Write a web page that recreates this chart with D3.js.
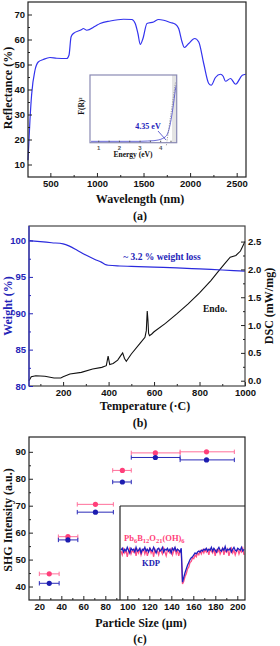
<!DOCTYPE html>
<html>
<head>
<meta charset="utf-8">
<script src="https://cdnjs.cloudflare.com/ajax/libs/d3/7.8.5/d3.min.js"></script>
<style>
  body { margin: 0; background: #fff; }
  svg { display: block; font-family: "Liberation Serif", "Times New Roman", serif; font-weight: bold; }
  .domain { display: none; }
</style>
</head>
<body>
<script>
// (a) diffuse reflectance
var wavelength = [260, 281, 299, 335, 370, 424, 496, 568, 676, 700, 722, 747, 837, 853, 891, 981, 1034, 1142, 1285, 1375, 1411, 1440, 1465, 1494, 1537, 1608, 1662, 1716, 1788, 1842, 1877, 1914, 1939, 1985, 2050, 2093, 2146, 2200, 2226, 2272, 2326, 2355, 2380, 2434, 2488, 2560, 2596];
var reflectance = [11.7, 27.7, 38, 47.7, 51, 52, 52.8, 52.5, 52.4, 53.7, 61, 62.4, 64, 64.4, 63.7, 65.3, 66.4, 67.4, 68.1, 68, 66.4, 62.4, 58, 60.4, 66.4, 67, 68, 67.7, 66.8, 66.1, 64.4, 59, 56.8, 58.4, 60.4, 59, 50.4, 42.4, 41.7, 44.8, 46.1, 45.3, 43.3, 44.4, 42.1, 45.7, 46.1];
var insetEnergy = [0.65, 1.0, 1.5, 2.0, 2.5, 3.0, 3.4, 3.7, 3.9, 4.1, 4.25, 4.35, 4.45, 4.55, 4.62, 4.68, 4.73, 4.78];
var insetFR = [0.01, 0.01, 0.01, 0.01, 0.01, 0.01, 0.015, 0.02, 0.03, 0.05, 0.08, 0.12, 0.22, 0.38, 0.52, 0.66, 0.78, 0.86];
var tangentEnergy = [4.3, 4.74];
var tangentFR = [-0.05, 0.9];

// (b) TGA / DSC
var tgaTemp = [50, 100, 150, 200, 230, 260, 300, 340, 370, 385, 400, 450, 500, 600, 700, 800, 900, 1000];
var tgaWeight = [100.0, 99.85, 99.7, 99.55, 99.2, 98.7, 98.0, 97.4, 97.0, 96.7, 96.6, 96.5, 96.45, 96.35, 96.25, 96.1, 95.95, 95.8];
var dscTemp = [50, 60, 80, 120, 160, 190, 200, 230, 280, 330, 370, 390, 398, 405, 420, 440, 455, 462, 470, 478, 500, 540, 560, 566, 570, 573, 576, 580, 590, 600, 650, 700, 750, 800, 850, 880, 910, 935, 960, 980, 1000];
var dscValue = [0.0, 0.07, 0.09, 0.08, 0.05, 0.05, 0.07, 0.12, 0.15, 0.21, 0.24, 0.27, 0.44, 0.29, 0.31, 0.37, 0.46, 0.5, 0.4, 0.35, 0.48, 0.68, 0.78, 0.9, 1.25, 1.1, 0.85, 0.81, 0.84, 0.88, 1.03, 1.2, 1.38, 1.58, 1.8, 1.95, 2.1, 2.22, 2.25, 2.33, 2.5];

// (c) SHG vs particle size
var sizeCenter = [29, 46, 71, 95.5, 125.5, 172];
var sizeLow = [20, 37.3, 54.5, 86.7, 103.6, 148];
var sizeHigh = [38, 55, 87.3, 103.6, 148, 197.3];
var shgSample = [44.7, 58.5, 70.5, 83.1, 89.6, 90];
var shgKDP = [41.2, 57.3, 67.6, 78.8, 87.9, 87];
var traceKDP = [53,55,51,54,52,56,53,50,55,53, 54,51,56,52,53,55,50,54,53,56, 52,54,51,55,53,52,56,53,50,54, 55,52,53,56,51,54,53,55,52,54, 50,55,53,56,52,54,53,51,55,
  19,24,29,33,37,40,43,45,46,48, 50,49,51,52,51,53,52,54,53,55, 52,
  54,53,56,52,55,53,51,54,56,53, 52,55,53,57,52,54,53,55,51,54, 56,53,52,55,54,53,56,52,54];
var traceSample = [52,48,54,50,53,46,52,55,49,53, 51,54,47,53,50,55,48,52,54,49, 53,47,52,55,50,53,46,54,51,52, 48,54,52,49,55,51,47,53,52,50, 54,48,52,55,49,53,47,52,51,
  17,20,25,28,33,35,40,41,45,44, 48,46,50,48,52,49,53,50,54,51, 53,
  48,54,52,50,55,47,53,51,54,49, 52,55,48,53,51,54,47,52,55,50, 53,48,52,54,49,53,51,55,48];

(function() {
    var svg = d3.select('body').append('svg')
                .attr('width', 280)
                .attr('height', 646);

    var blue = '#3333ee', dark = '#222';

    function frame(x0, y0, x1, y1, color) {
        svg.append('rect')
            .attr('x', x0).attr('y', y0)
            .attr('width', x1 - x0).attr('height', y1 - y0)
            .attr('fill', 'none')
            .attr('stroke', color || dark)
            .attr('stroke-width', 1.2);
    }

    // major ticks with labels, minor ticks without, all pointing inward
    function axis(gen, scale, pos, major, minor, fmt, size, color) {
        var tr = (gen === d3.axisBottom) ? 'translate(0,' + pos + ')' : 'translate(' + pos + ',0)';
        var gm = svg.append('g').attr('transform', tr)
            .call(gen(scale).tickValues(minor).tickSize(-2).tickFormat(''));
        var g = svg.append('g').attr('transform', tr)
            .call(gen(scale).tickValues(major).tickSize(-4).tickPadding(3).tickFormat(fmt));
        [gm, g].forEach(function(s) {
            s.selectAll('line').attr('stroke', color || dark);
        });
        g.selectAll('text')
            .attr('font-size', size || 10)
            .attr('fill', color || '#111');
        return g;
    }

    function label(x, y, text, size, color, rotate) {
        var t = svg.append('text')
            .attr('text-anchor', 'middle')
            .attr('font-size', size)
            .attr('fill', color || '#111')
            .text(text);
        if (rotate) t.attr('transform', 'translate(' + x + ',' + y + ') rotate(' + rotate + ')');
        else t.attr('x', x).attr('y', y);
        return t;
    }

    // ---------- (a) ----------
    var xa = d3.scaleLinear().domain([260, 2600]).range([28, 246]);
    var ya = d3.scaleLinear().domain([5, 75]).range([177, 2]);

    svg.append('path')
        .datum(d3.zip(wavelength, reflectance))
        .attr('d', d3.line().x(function(d) { return xa(d[0]); }).y(function(d) { return ya(d[1]); }).curve(d3.curveMonotoneX))
        .attr('fill', 'none').attr('stroke', blue).attr('stroke-width', 1.2);

    axis(d3.axisBottom, xa, 177, [500, 1000, 1500, 2000, 2500], [750, 1250, 1750, 2250], d3.format('d'), 9.5);
    axis(d3.axisLeft, ya, 28, [10, 20, 30, 40, 50, 60, 70], [15, 25, 35, 45, 55, 65], d3.format('d'), 9.5);
    frame(28, 2, 246, 177);

    label(140, 203, 'Wavelength (nm)', 12);
    label(140, 220, '(a)', 12);
    label(12, 88, 'Reflectance (%)', 12, '#111', -90);

    // inset
    var xi = d3.scaleLinear().domain([0.6, 4.8]).range([90, 176.7]);
    var yi = d3.scaleLinear().domain([0, 1]).range([142, 76]);
    svg.append('rect').attr('x', 172).attr('y', 75).attr('width', 4.7).attr('height', 67.7).attr('fill', '#e4e4e4');
    svg.append('path')
        .datum(d3.zip(insetEnergy, insetFR))
        .attr('d', d3.line().x(function(d) { return xi(d[0]); }).y(function(d) { return yi(d[1]); }).curve(d3.curveMonotoneX))
        .attr('fill', 'none').attr('stroke', '#4444cc').attr('stroke-width', 0.8);
    svg.append('path')
        .datum(d3.zip(tangentEnergy, tangentFR))
        .attr('d', d3.line().x(function(d) { return xi(d[0]); }).y(function(d) { return yi(d[1]); }))
        .attr('fill', 'none').attr('stroke', '#777').attr('stroke-width', 0.7).attr('stroke-dasharray', '1.2,1.2');
    var gi = axis(d3.axisBottom, xi, 142.7, [1, 2, 3, 4], [1.5, 2.5, 3.5, 4.5], d3.format('d'), 6, '#555');
    gi.selectAll('line').attr('y2', -2);
    frame(90, 75, 176.7, 142.7, '#8a8ab4');
    label(133, 157, 'Energy (eV)', 7.5);
    label(84, 106, 'F(R)²', 7.5, '#111', -90);
    label(148, 129, '4.35 eV', 8, '#2222bb');
    svg.append('line').attr('x1', 158).attr('y1', 131).attr('x2', 166).attr('y2', 140)
        .attr('stroke', '#2222bb').attr('stroke-width', 0.7);

    // ---------- (b) ----------
    var xb = d3.scaleLinear().domain([50, 1000]).range([29, 245]);
    var yw = d3.scaleLinear().domain([80, 102]).range([386, 226]);
    var yd = d3.scaleLinear().domain([-0.095, 2.78]).range([386, 226]);

    svg.append('path')
        .datum(d3.zip(dscTemp, dscValue))
        .attr('d', d3.line().x(function(d) { return xb(d[0]); }).y(function(d) { return yd(d[1]); }))
        .attr('fill', 'none').attr('stroke', '#111').attr('stroke-width', 1.1);
    svg.append('path')
        .datum(d3.zip(tgaTemp, tgaWeight))
        .attr('d', d3.line().x(function(d) { return xb(d[0]); }).y(function(d) { return yw(d[1]); }).curve(d3.curveMonotoneX))
        .attr('fill', 'none').attr('stroke', '#2a2add').attr('stroke-width', 1.2);

    axis(d3.axisBottom, xb, 386, [200, 400, 600, 800, 1000], [100, 300, 500, 700, 900], d3.format('d'), 9.5);
    frame(29, 226, 245, 386, '#444');
    axis(d3.axisLeft, yw, 29, [80, 85, 90, 95, 100], [82.5, 87.5, 92.5, 97.5], d3.format('d'), 9.5, '#2424b8');
    svg.append('line').attr('x1', 29).attr('x2', 29).attr('y1', 226).attr('y2', 386).attr('stroke', '#3030cc').attr('stroke-width', 1.2);
    axis(d3.axisRight, yd, 245, [0, 0.5, 1, 1.5, 2, 2.5], [0.25, 0.75, 1.25, 1.75, 2.25], d3.format('.1f'), 9.5);

    label(145, 410, 'Temperature (·C)', 12);
    label(140, 427, '(b)', 12);
    label(12, 306, 'Weight (%)', 12, '#2424b8', -90);
    label(273, 306, 'DSC (mW/mg)', 12, '#111', -90);
    label(162, 260, '~ 3.2 % weight loss', 9.5, '#2424b8');
    label(215, 312, 'Endo.', 9.5);

    // ---------- (c) ----------
    var xc = d3.scaleLinear().domain([10.6, 207]).range([29, 245]);
    var yc = d3.scaleLinear().domain([35, 95.5]).range([600, 437]);

    // inset trace
    var xt = d3.scaleLinear().domain([0, traceKDP.length - 1]).range([121, 244]);
    var yt = d3.scaleLinear().domain([0, 100]).range([600, 506]);
    var traceLine = d3.line().x(function(d, i) { return xt(i); }).y(function(d) { return yt(d); });
    svg.append('path').datum(traceSample).attr('d', traceLine)
        .attr('fill', 'none').attr('stroke', '#ff4f86').attr('stroke-width', 1.3);
    svg.append('path').datum(traceKDP).attr('d', traceLine)
        .attr('fill', 'none').attr('stroke', '#2020c0').attr('stroke-width', 1.3);
    svg.append('line').attr('x1', 120).attr('x2', 120).attr('y1', 506).attr('y2', 600).attr('stroke', dark).attr('stroke-width', 1.2);
    svg.append('line').attr('x1', 120).attr('x2', 245).attr('y1', 506).attr('y2', 506).attr('stroke', dark).attr('stroke-width', 1.2);

    var t1 = svg.append('text').attr('x', 124).attr('y', 541).attr('font-size', 8.5).attr('fill', '#ff3f7a');
    [['Pb', 0], ['6', 1], ['B', 0], ['12', 1], ['O', 0], ['21', 1], ['(OH)', 0], ['6', 1]].forEach(function(p) {
        t1.append('tspan').text(p[0])
            .attr('font-size', p[1] ? 6.5 : 8.5)
            .attr('dy', p[1] ? 2 : 0);
    });
    t1.selectAll('tspan').filter(function(d, i) { return i > 0 && i % 2 === 0; }).attr('dy', -2);
    label(151, 566, 'KDP', 8.5, '#2020b0');

    // error bars and points
    function series(vals, color, barColor) {
        var g = svg.append('g');
        sizeCenter.forEach(function(c, i) {
            var y = yc(vals[i]);
            g.append('line').attr('x1', xc(sizeLow[i])).attr('x2', xc(sizeHigh[i])).attr('y1', y).attr('y2', y)
                .attr('stroke', barColor).attr('stroke-width', 1);
            [sizeLow[i], sizeHigh[i]].forEach(function(e) {
                g.append('line').attr('x1', xc(e)).attr('x2', xc(e)).attr('y1', y - 2.2).attr('y2', y + 2.2)
                    .attr('stroke', barColor).attr('stroke-width', 1);
            });
            g.append('circle').attr('cx', xc(c)).attr('cy', y).attr('r', 2.6).attr('fill', color);
        });
    }
    series(shgSample, '#ff3f7a', '#ff6f9a');
    series(shgKDP, '#1c1cb0', '#2a2ab8');

    axis(d3.axisBottom, xc, 600, [20, 40, 60, 80, 100, 120, 140, 160, 180, 200], [30, 50, 70, 90, 110, 130, 150, 170, 190], d3.format('d'), 9.5);
    axis(d3.axisLeft, yc, 29, [40, 50, 60, 70, 80, 90], [45, 55, 65, 75, 85], d3.format('d'), 9.5);
    frame(29, 437, 245, 600);

    label(141, 627, 'Particle Size (µm)', 12);
    label(140, 643, '(c)', 12);
    label(12, 520, 'SHG Intensity (a.u.)', 12, '#111', -90);
}());
</script>
</body>
</html>
